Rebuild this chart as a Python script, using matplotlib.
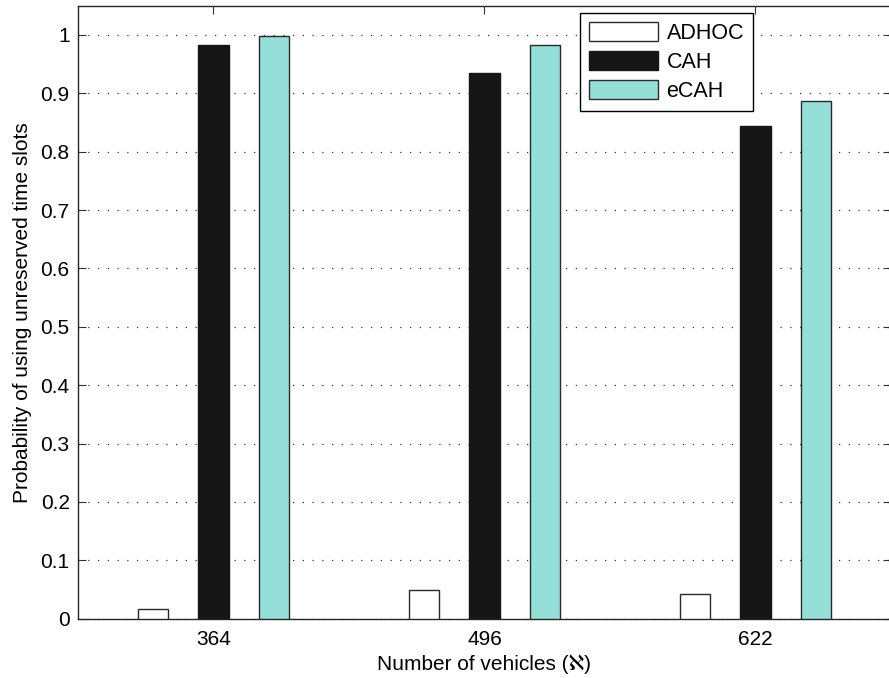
import numpy as np
import matplotlib
matplotlib.use("Agg")
import matplotlib.pyplot as plt

plt.rcParams['font.family'] = ['Liberation Sans', 'DejaVu Sans']

# Dados das três abordagens para cada número de veículos
vehicles = ["364", "496", "622"]
adhoc = [0.016, 0.049, 0.043]
cah = [0.982, 0.934, 0.844]
ecah = [0.998, 0.983, 0.886]

series_names = ["ADHOC", "CAH", "eCAH"]
y_ticks = [0, 0.1, 0.2, 0.3, 0.4, 0.5, 0.6, 0.7, 0.8, 0.9, 1]
y_tick_labels = ["0", "0.1", "0.2", "0.3", "0.4", "0.5", "0.6", "0.7", "0.8", "0.9", "1"]

fig = plt.figure(figsize=(8.89, 6.78), dpi=100)
ax = fig.add_axes([78 / 889, 59.3 / 678, 813 / 889, 613 / 678])

x = np.arange(1, len(vehicles) + 1)
offset = 0.222
width = 0.111
edge = "#2a2a2a"

ax.bar(x - offset, adhoc, width, color="white", edgecolor=edge, linewidth=1.0,
       label=series_names[0], zorder=3)
ax.bar(x, cah, width, color="#161616", edgecolor="#161616", linewidth=1.0,
       label=series_names[1], zorder=3)
ax.bar(x + offset, ecah, width, color="#94e0d9", edgecolor=edge, linewidth=1.0,
       label=series_names[2], zorder=3)

ax.set_xlim(0.5, 3.5)
ax.set_ylim(0, 1.05)
ax.set_xticks(x)
ax.set_xticklabels(vehicles, fontsize=15)
ax.set_yticks(y_ticks)
ax.set_yticklabels(y_tick_labels, fontsize=15)

ax.yaxis.grid(True, linestyle=(0, (1, 6.8)), color="#333333", linewidth=0.9, zorder=0)
ax.set_axisbelow(True)

ax.tick_params(direction="in", length=6, width=0.8, color="#333333",
               top=True, right=True)
ax.tick_params(axis="x", pad=8)
ax.tick_params(axis="y", pad=6)

for s in ax.spines.values():
    s.set_color("#262626")
    s.set_linewidth(1.0)
# a borda direita fica fora da figura
ax.spines["right"].set_visible(False)

ax.set_xlabel("Number of vehicles (ℵ)", fontsize=15, labelpad=4)
ax.set_ylabel("Probability of using unreserved time slots", fontsize=15, labelpad=6)

leg = ax.legend(loc="upper left", bbox_to_anchor=(580 / 889, 1 - 12.7 / 678),
                bbox_transform=fig.transFigure, fontsize=15.5, fancybox=False,
                framealpha=1, edgecolor="black", borderaxespad=0,
                handlelength=3.2, handleheight=1.0, handletextpad=0.4,
                labelspacing=0.32, borderpad=0.42)
leg.get_frame().set_linewidth(1.0)

fig.savefig("out.png", dpi=100)
